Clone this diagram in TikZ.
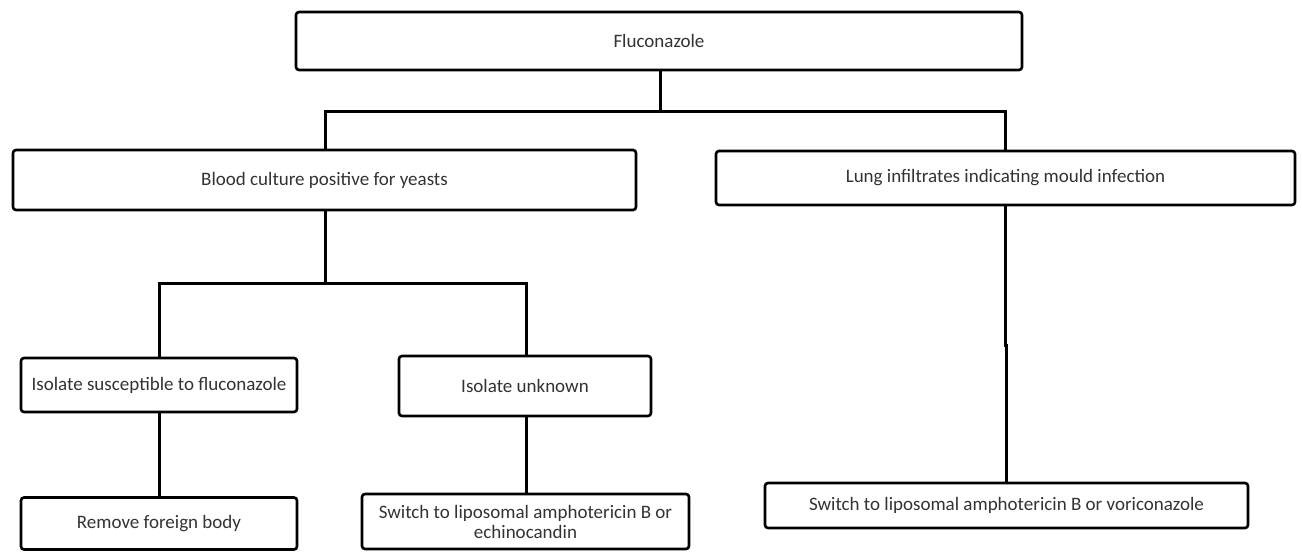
\documentclass[tikz,border=0pt]{standalone}
\usepackage{fontspec}
\setmainfont{Carlito}
\newcommand\boxfont{\fontsize{19}{20}\selectfont}
\begin{document}
\begin{tikzpicture}[x=1pt,y=-1pt,
  box/.style={draw=black, line width=2.6pt, rounded corners=3pt, fill=white,
    inner sep=0pt, align=center, text=black!80, font=\boxfont},
  link/.style={draw=black, line width=3pt}]
\useasboundingbox (0,0) rectangle (1302,552);
\node[box, minimum width=726pt, minimum height=58pt] (flu) at (659,41) {Fluconazole};
\node[box, minimum width=623pt, minimum height=60pt] (blood) at (324.5,180) {Blood culture positive for yeasts};
\node[box, minimum width=579pt, minimum height=54pt] (lung) at (1005.5,178) {Lung infiltrates indicating mould infection};
\node[box, minimum width=276pt, minimum height=54pt] (isus) at (159,385) {Isolate susceptible to fluconazole};
\node[box, minimum width=252pt, minimum height=60pt] (iunk) at (525,386) {Isolate unknown};
\node[box, minimum width=276pt, minimum height=52pt] (remove) at (159,523.5) {Remove foreign body};
\node[box, minimum width=327pt, minimum height=55pt] (sw1) at (525.5,521.5) {Switch to liposomal amphotericin B or\\echinocandin};
\node[box, minimum width=483pt, minimum height=45pt] (sw2) at (1006.5,505.5) {Switch to liposomal amphotericin B or voriconazole};
\coordinate (j1) at (660,111);
\coordinate (j2) at (325,283);
\coordinate (k) at (1005,345);
\draw[link] (flu.south -| j1) -- (j1);
\draw[link] (j1) -| (blood.north -| 325,0);
\draw[link] (j1) -| (lung.north -| 1005,0);
\draw[link] (blood.south -| j2) -- (j2);
\draw[link] (j2) -| (isus.north -| 159,0);
\draw[link] (j2) -| (iunk.north -| 526,0);
\draw[link] (isus.south -| 159,0) -- (remove.north -| 159,0);
\draw[link] (iunk.south -| 526,0) -- (sw1.north -| 526,0);
\draw[link] (lung.south -| k) -- (k) -- ++(1.5,0) -- (sw2.north -| 1006.5,0);
\end{tikzpicture}
\end{document}
